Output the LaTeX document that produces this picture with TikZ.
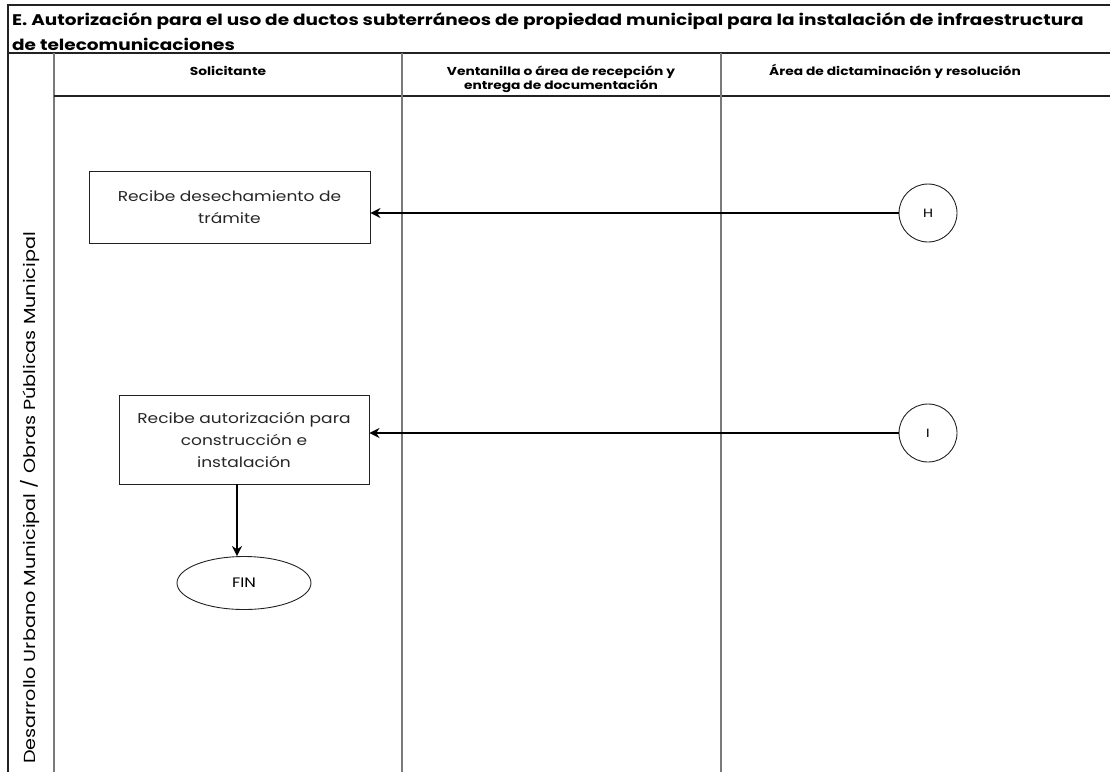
\documentclass[tikz,border=0pt]{standalone}
\usepackage{fontspec}
\setmainfont{Poppins}[FakeStretch=1.2]
\definecolor{LaneGray}{HTML}{7A7A7A}
\definecolor{FrameDark}{HTML}{222222}
\usetikzlibrary{
  arrows.meta,
  positioning,
  shapes.geometric,
  calc
}

\begin{document}
\begin{tikzpicture}[
  x=1pt, y=-1pt,
  frame/.style={FrameDark, line width=1.3pt},
  laneline/.style={LaneGray, line width=1.2pt},
  header/.style={
    font=\fontsize{11.5}{14}\selectfont\bfseries,
    align=center, anchor=base, inner sep=0pt
  },
  titletext/.style={
    anchor=base west, inner sep=0pt,
    font=\fontsize{15.4}{25}\selectfont\bfseries
  },
  task/.style={
    rectangle, draw=FrameDark, line width=0.9pt,
    minimum width=281pt, minimum height=72pt,
    font=\fontsize{14.2}{22}\selectfont,
    align=center, text=black!85
  },
  connector/.style={
    circle, draw=FrameDark, line width=0.9pt,
    minimum size=58pt, inner sep=0pt,
    font=\fontsize{12}{13}\selectfont
  },
  flow/.style={
    -{Stealth[length=10pt, width=10pt]},
    line width=2.8pt, black
  }
]
  \useasboundingbox (0,0) rectangle (1110,772);

  % Frame and swimlanes
  \draw[frame] (1110,5) -- (8,5) -- (8,772);
  \draw[frame] (8,53) -- (1110,53);
  \draw[laneline] (54,53) -- (54,772);
  \draw[laneline, FrameDark] (54,96) -- (1110,96);
  \draw[laneline] (402,53) -- (402,772);
  \draw[laneline] (721,53) -- (721,772);

  % Title
  \node[titletext] (title) at (12,25)
    {E. Autorización para el uso de ductos subterráneos de propiedad municipal para la instalación de infraestructura};
  \node[titletext] (titleB) at (12,50) {de telecomunicaciones};

  % Lane headers
  \node[header] (hdrSol) at (228,75) {Solicitante};
  \node[header] (hdrVen) at (561,75) {Ventanilla o área de recepción y};
  \node[header] (hdrVenB) at (561,89) {entrega de documentación};
  \node[header] (hdrArea) at (895,75)
    {Área de dictaminación y resolución};

  % Side label
  \node[rotate=90, font=\fontsize{16}{18}\selectfont] (lane)
    at (30,498) {Desarrollo Urbano Municipal / Obras Públicas Municipal};

  % Tasks
  \node[task] (recDes) at (229.5,207)
    {Recibe desechamiento de\\trámite};
  \node[task, minimum width=250pt, minimum height=89pt] (recAut)
    at (244,439.5)
    {Recibe autorización para\\construcción e\\instalación};
  \node[ellipse, draw=FrameDark, line width=0.9pt,
    minimum width=134pt, minimum height=53pt,
    font=\fontsize{13.7}{15}\selectfont] (fin) at (244,583) {FIN};

  % Off-page connectors
  \node[connector] (conH) at (928,213) {H};
  \node[connector] (conI) at (928,433) {I};

  \draw[flow] (conH.west) -- (conH.west -| recDes.east);
  \draw[flow] (conI.west) -- (conI.west -| recAut.east);
  \draw[flow] ($(recAut.south)+(-7,0)$) -- ($(fin.north)+(-7,0)$);
\end{tikzpicture}
\end{document}
